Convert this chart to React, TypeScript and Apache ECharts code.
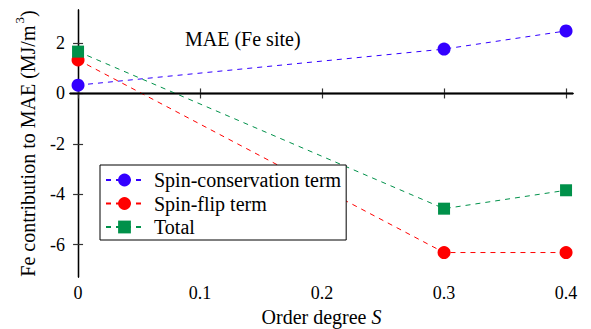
import React, { useEffect, useRef } from "react";
import * as echarts from "echarts";

const orderS = [0, 0.3, 0.4];
const spinConservation = [0.33, 1.76, 2.48];
const spinFlip = [1.33, -6.31, -6.31];
const total = [1.66, -4.57, -3.84];
const xTicks = [0, 0.1, 0.2, 0.3, 0.4];
const yTicks = [-6, -4, -2, 0, 2];
const seriesNames = ["Spin-conservation term", "Spin-flip term", "Total"];

const FONT = "Liberation Serif";

export default function App() {
  const ref = useRef<HTMLDivElement>(null);
  useEffect(() => {
    if (!ref.current) return;
    const chart = echarts.init(ref.current, null, { renderer: "svg" });
    const pairs = (ys: number[]) => orderS.map((x, i) => [x, ys[i]]);
    const axisLine = { show: true, lineStyle: { color: "#000", width: 1.3 } };
    const tickStyle = { color: "#333", width: 1.2 };
    const mkSeries = (name: string, ys: number[], color: string, symbol: string, size: number, extra: any = {}) => ({
      type: "line",
      name,
      data: pairs(ys),
      symbol,
      symbolSize: size,
      itemStyle: { color },
      lineStyle: { color, width: 1, type: [5, 5] },
      z: 3,
      ...extra,
    });
    chart.setOption({
      animation: false,
      textStyle: { fontFamily: FONT },
      grid: { left: 70, right: 18, top: 10, bottom: 52, containLabel: false, outerBoundsMode: "none" },
      title: {
        text: "MAE (Fe site)",
        left: 180,
        top: 24,
        textStyle: { fontFamily: FONT, fontSize: 20, fontWeight: "normal", color: "#000" },
      },
      legend: {
        orient: "vertical",
        left: 100,
        top: 165,
        padding: [5, 5, 3, 5],
        itemGap: 3.5,
        itemWidth: 37,
        itemHeight: 16,
        borderColor: "#000",
        borderWidth: 1,
        backgroundColor: "#fff",
        data: seriesNames,
        textStyle: { fontFamily: FONT, fontSize: 20, color: "#000", lineHeight: 20, padding: [0, 0, 0, 6] },
      },
      xAxis: [
        {
          type: "value",
          min: -0.0066,
          max: 0.4057,
          position: "bottom",
          axisLine,
          splitLine: { show: false },
          axisTick: { show: true, inside: true, length: 5, lineStyle: tickStyle, customValues: xTicks },
          axisLabel: {
            customValues: xTicks,
            fontFamily: FONT,
            fontSize: 18,
            color: "#000",
            margin: 7,
            formatter: (v: number) => String(v),
          },
          name: "Order degree {i|S}",
          nameLocation: "middle",
          nameGap: 30,
          nameTextStyle: {
            fontFamily: FONT,
            fontSize: 20,
            color: "#000",
            rich: { i: { fontFamily: FONT, fontSize: 20, fontStyle: "italic", color: "#000" } },
          },
        },
        {
          type: "value",
          min: -0.0066,
          max: 0.4057,
          position: "top",
          axisLine,
          splitLine: { show: false },
          axisTick: { show: true, inside: true, length: 5, lineStyle: tickStyle, customValues: xTicks },
          axisLabel: { show: false },
        },
      ],
      yAxis: [
        {
          type: "value",
          min: -7.28,
          max: 3.31,
          position: "left",
          axisLine,
          splitLine: { show: false },
          axisTick: { show: true, inside: true, length: 5, lineStyle: tickStyle, customValues: yTicks },
          axisLabel: {
            customValues: yTicks,
            fontFamily: FONT,
            fontSize: 18,
            color: "#000",
            margin: 5,
            formatter: (v: number) => String(v),
          },
          name: "Fe contribution to MAE (MJ/m{sup|3})",
          nameLocation: "middle",
          nameGap: 28,
          nameRotate: 90,
          nameTextStyle: {
            fontFamily: FONT,
            fontSize: 20,
            color: "#000",
            rich: { sup: { fontFamily: FONT, fontSize: 13, color: "#000", padding: [0, 0, 16, 2] } },
          },
        },
        {
          type: "value",
          min: -7.28,
          max: 3.31,
          position: "right",
          axisLine,
          splitLine: { show: false },
          axisTick: { show: true, inside: true, length: 5, lineStyle: tickStyle, customValues: yTicks },
          axisLabel: { show: false },
        },
      ],
      series: [
        mkSeries(seriesNames[0], spinConservation, "#3300ff", "circle", 13, {
          markLine: {
            silent: true,
            symbol: "none",
            label: { show: false },
            lineStyle: { color: "#000", width: 1.3, type: "solid" },
            data: [{ yAxis: 0 }],
          },
        }),
        mkSeries(seriesNames[1], spinFlip, "#ff0000", "circle", 13),
        mkSeries(seriesNames[2], total, "#00914a", "rect", 12),
      ],
    });
    return () => chart.dispose();
  }, []);
  return <div ref={ref} style={{ width: 591, height: 329, position: "absolute", left: 0, top: 0, background: "#fff" }} />;
}
